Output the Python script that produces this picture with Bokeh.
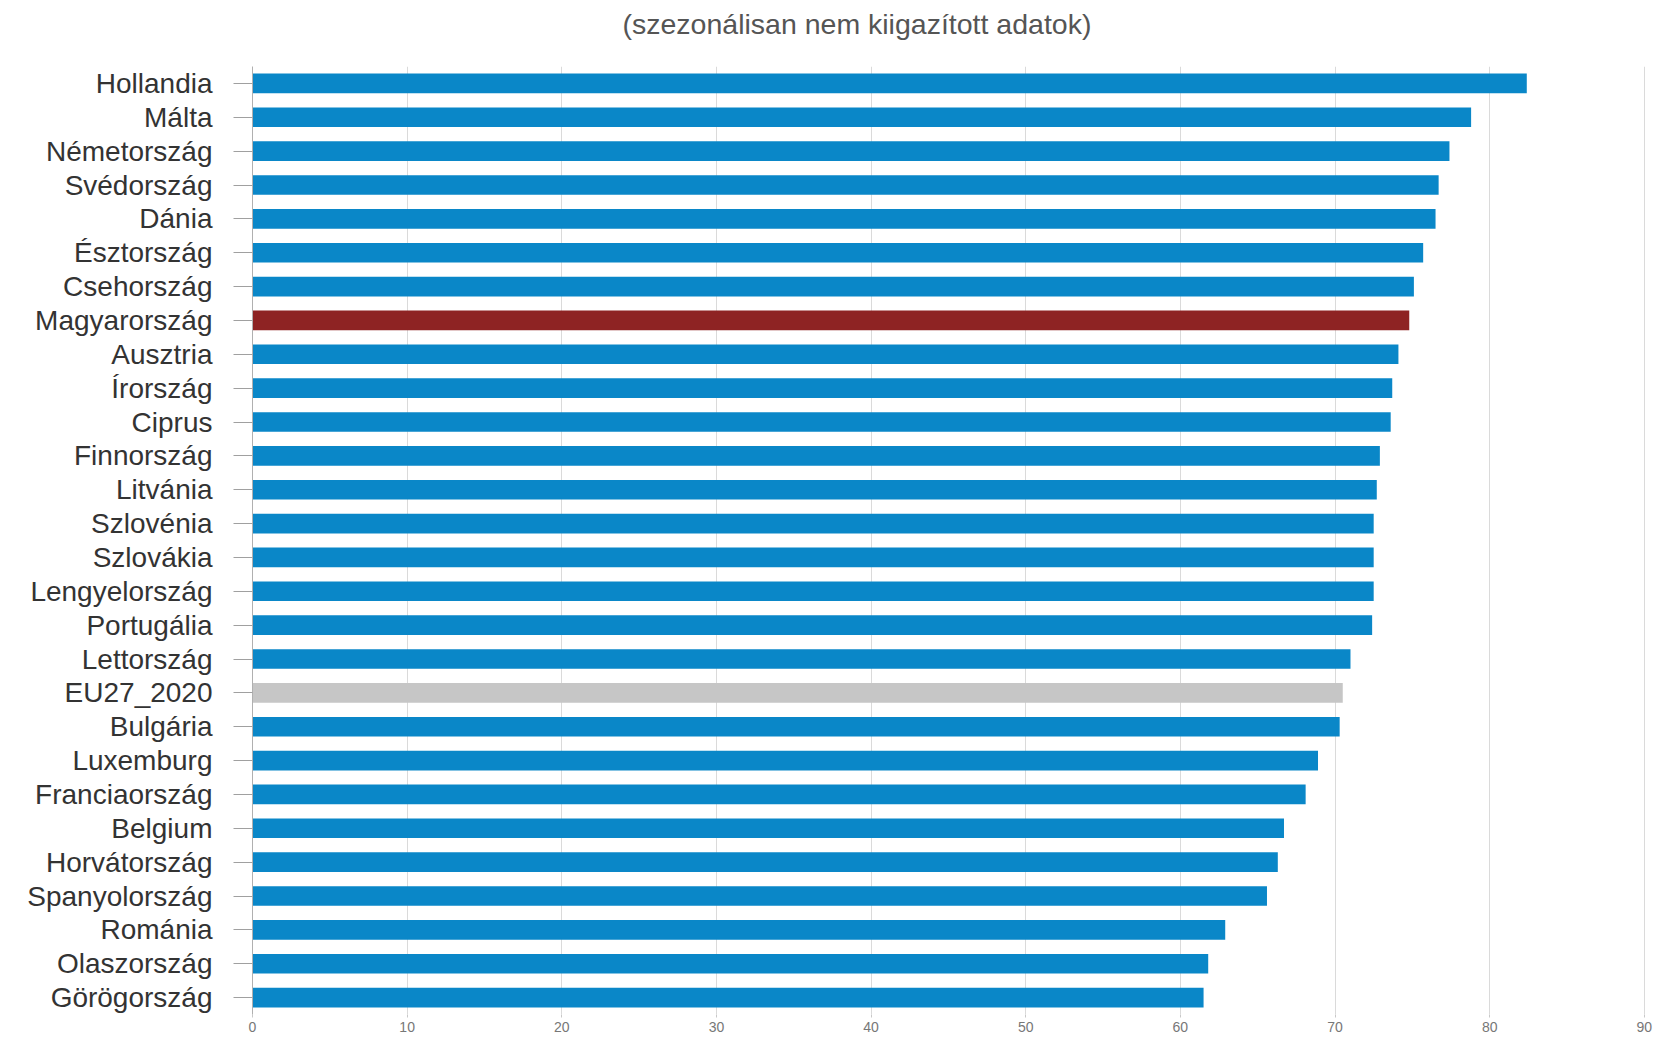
from bokeh.plotting import figure
from bokeh.models import FactorRange, Range1d, FixedTicker, Title, ColumnDataSource
from bokeh.embed import file_html
from bokeh.resources import INLINE

title_text = "(szezonálisan nem kiigazított adatok)"

countries = [
    "Hollandia", "Málta", "Németország", "Svédország", "Dánia", "Észtország",
    "Csehország", "Magyarország", "Ausztria", "Írország", "Ciprus", "Finnország",
    "Litvánia", "Szlovénia", "Szlovákia", "Lengyelország", "Portugália",
    "Lettország", "EU27_2020", "Bulgária", "Luxemburg", "Franciaország",
    "Belgium", "Horvátország", "Spanyolország", "Románia", "Olaszország",
    "Görögország",
]
values = [
    82.4, 78.8, 77.4, 76.7, 76.5, 75.7,
    75.1, 74.8, 74.1, 73.7, 73.6, 72.9,
    72.7, 72.5, 72.5, 72.5, 72.4,
    71.0, 70.5, 70.3, 68.9, 68.1,
    66.7, 66.3, 65.6, 62.9, 61.8,
    61.5,
]
x_ticks = [0, 10, 20, 30, 40, 50, 60, 70, 80, 90]

BLUE = "#0a87c8"
RED = "#8e2323"
GREY = "#c6c6c6"
special = {"Magyarország": RED, "EU27_2020": GREY}
colors = [special.get(c, BLUE) for c in countries]

src = ColumnDataSource(dict(country=countries, value=values, color=colors))

FONT = "Liberation Sans"

p = figure(
    y_range=FactorRange(factors=countries[::-1]),
    x_range=Range1d(0, 90.4),
    frame_width=1398, frame_height=948,
    min_border_left=252, min_border_right=20,
    min_border_top=66, min_border_bottom=26,
    output_backend="svg", toolbar_location=None,
    background_fill_color="white", border_fill_color="white",
)
p.outline_line_color = None

# spacer panel (nearest the frame) lifts the title up without growing the border
spacer = Title(text=" ", text_font_size="10px", standoff=14,
               text_color="white")
p.add_layout(spacer, "above")
t = Title(text=title_text, align="left", offset=370, standoff=0,
          vertical_align="bottom", text_font=FONT, text_font_size="28.5px",
          text_font_style="normal", text_color="#555555")
p.add_layout(t, "above")

p.hbar(y="country", left=0, right="value", height=0.58,
       fill_color="color", line_color=None, source=src)

# y axis
ya = p.yaxis[0]
ya.axis_line_color = "#b0b0b0"
ya.major_tick_line_color = "#a0a0a0"
ya.major_tick_out = 19
ya.major_tick_in = 0
ya.major_label_standoff = 21
ya.major_label_text_font = FONT
ya.major_label_text_font_size = "28px"
ya.major_label_text_color = "#333333"
p.ygrid.grid_line_color = None

# x axis
xa = p.xaxis[0]
xa.ticker = FixedTicker(ticks=x_ticks)
xa.axis_line_color = None
xa.major_tick_line_color = "#c8c8c8"
xa.major_tick_out = 3
xa.major_tick_in = 0
xa.minor_tick_line_color = None
xa.major_label_standoff = 4
xa.major_label_text_font = FONT
xa.major_label_text_font_size = "14px"
xa.major_label_text_color = "#777777"
p.xgrid.ticker = FixedTicker(ticks=x_ticks)
p.xgrid.grid_line_color = "#dadada"
p.xgrid.grid_line_width = 1

open("out.html", "w").write(file_html(p, INLINE))
